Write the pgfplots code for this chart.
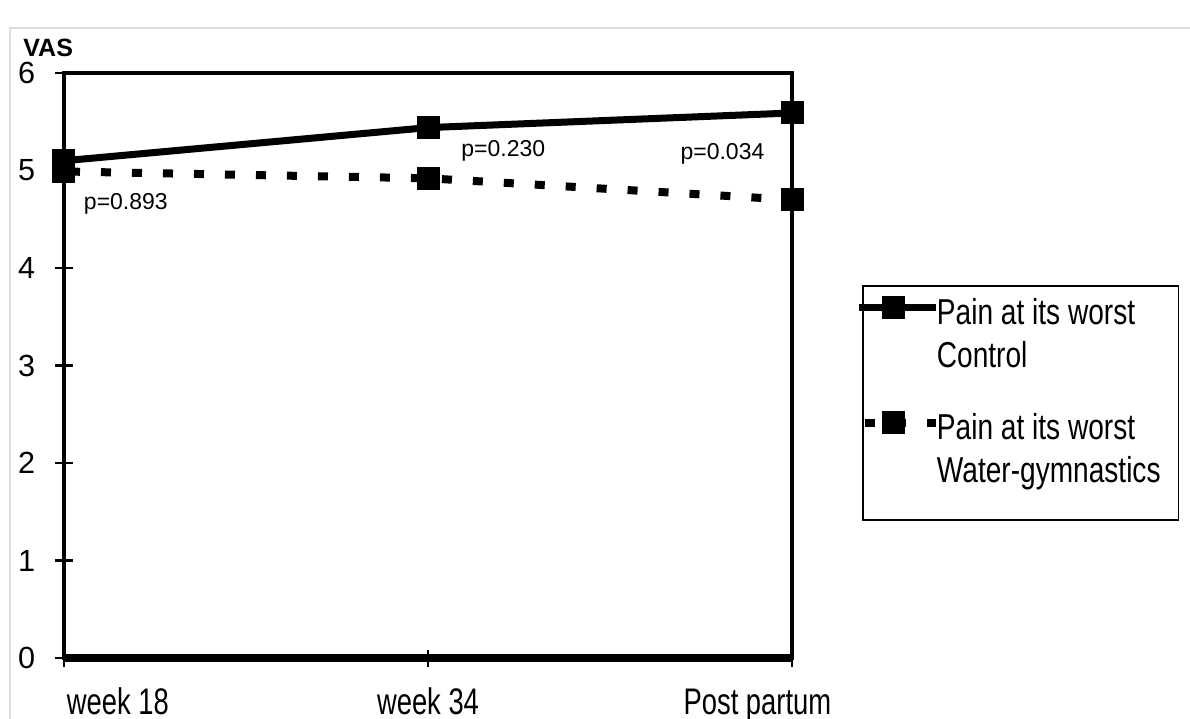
\documentclass[border=0pt]{standalone}
\usepackage{fontspec}
\setmainfont{Liberation Sans}
\newfontfamily\condfont{Liberation Sans}[FakeStretch=0.74]
\newfontfamily\legfont{Liberation Sans}[FakeStretch=0.78]
\usepackage{pgfplots}
\pgfplotsset{compat=1.18}
\pgfplotstableread{
x y
0 5.10
1 5.44
2 5.59
}\control
\pgfplotstableread{
x y
0 4.99
1 4.92
2 4.70
}\water
\begin{document}
\begin{tikzpicture}
\useasboundingbox (-32bp,-30.5bp) rectangle (563bp,329bp);
\draw[black!13, line width=1.2bp] (-27bp,-31bp) -- (-27bp,315bp) -- (564bp,315bp);
\begin{axis}[
  at={(0,0)}, anchor=south west,
  width=364bp, height=292.5bp, scale only axis,
  xmin=0, xmax=2, ymin=0, ymax=6,
  axis line style={line width=2.2bp, black},
  tick pos=left,
  xtick={0,1,2}, xticklabels={{},{},{}},
  ytick={0,1,2,3,4,5,6},
  tick align=center, major tick length=8.5bp,
  tick style={line width=1.1bp, black},
  yticklabel style={font=\fontsize{15.3bp}{16bp}\selectfont, inner sep=0pt, anchor=east, xshift=-10bp},
  /pgf/number format/assume math mode=true,
  extra x ticks={0.148,1,1.905},
  extra x tick labels={week 18, week 34, Post partum},
  extra x tick style={major tick length=0pt, tick style={draw=none},
    xticklabel style={font=\condfont\fontsize{18.5bp}{20bp}\selectfont, anchor=base, inner sep=0pt, yshift=-28bp}},
  clip=false,
  legend cell align=left,
  legend style={at={(1.0962,0.6376)}, anchor=north west, draw=black, line width=0.9bp,
    inner xsep=5bp, inner ysep=5bp, row sep=20bp, nodes={inner sep=0pt},
    font=\legfont\fontsize{18bp}{21.5bp}\selectfont},
  legend image code/.code={%
    \path[use as bounding box, draw=none, fill=none] (0bp,25bp) rectangle (28bp,36bp);
    \draw[#1, mark=none, fill=none] (-7bp,30bp) -- (31.5bp,30bp);
    \path[draw=none, fill=none] plot[mark=square*, mark size=5.5bp, mark options={solid, fill=black, draw=black, line width=0.5bp}] coordinates {(10.5bp,30bp)};},
]
\addplot[black, line width=3.5bp, mark=square*, mark size=5.5bp, mark options={solid, fill=black, draw=black, line width=0.5bp}] table[x=x,y=y] {\control};
\addlegendentry[align=left, anchor=base west, inner xsep=4bp, inner ysep=0pt]{Pain at its worst\\Control}
\addplot[black, line width=4bp, dash pattern=on 5bp off 10.5bp, dash phase=-3bp, mark=square*, mark size=5.5bp, mark options={solid, fill=black, draw=black, line width=0.5bp}] table[x=x,y=y] {\water};
\addlegendentry[align=left, anchor=base west, inner xsep=4bp, inner ysep=0pt, text depth=13.5bp]{Pain at its worst\\Water-gymnastics}
\draw[line width=3.8bp, black] (axis cs:0,0) -- (axis cs:2,0);
\node[font=\fontsize{11.5bp}{12bp}\selectfont] at (axis cs:0.170,4.66) {p=0.893};
\node[font=\fontsize{11.5bp}{12bp}\selectfont] at (axis cs:1.207,5.20) {p=0.230};
\node[font=\fontsize{11.5bp}{12bp}\selectfont] at (axis cs:1.809,5.17) {p=0.034};
\node[font=\bfseries\fontsize{12.5bp}{13bp}\selectfont, anchor=base west, inner sep=0pt] at (rel axis cs:-0.0563,1.0274) {VAS};
\end{axis}
\end{tikzpicture}
\end{document}
